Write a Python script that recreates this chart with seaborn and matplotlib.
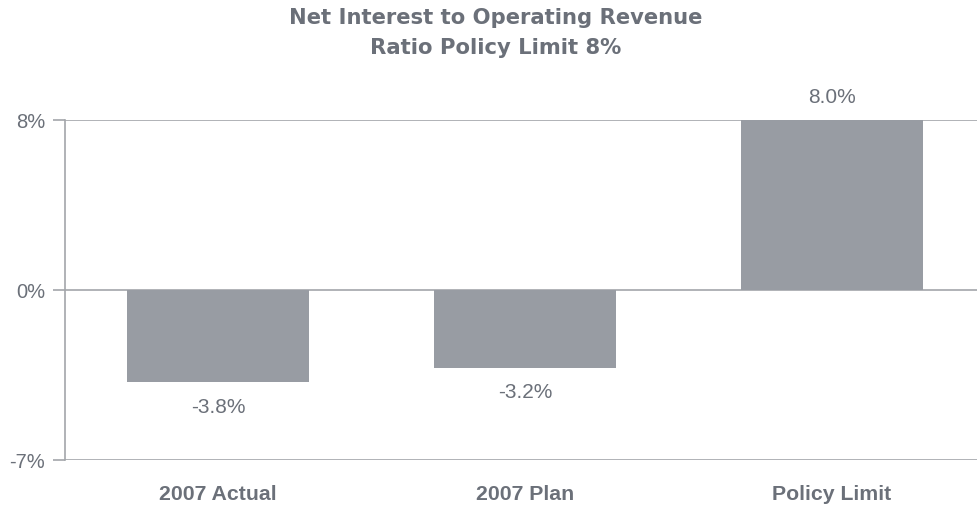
import numpy as np
import pandas as pd
import matplotlib
matplotlib.use("Agg")
import matplotlib.pyplot as plt
import seaborn as sns
from matplotlib import font_manager

categories = ["2007 Actual", "2007 Plan", "Policy Limit"]
values = [-3.8, -3.2, 8.0]
value_labels = ["-3.8%", "-3.2%", "8.0%"]
ytick_values = [-7, 0, 8]
ytick_labels = ["-7%", "0%", "8%"]
title_lines = ["Net Interest to Operating Revenue", "Ratio Policy Limit 8%"]

BAR = "#989ca3"
TEXT = "#6b7079"
LINE = "#a3a6aa"

sns.set_style("white")
plt.rcParams["font.family"] = ["Liberation Sans", "DejaVu Sans"]

names = {f.name for f in font_manager.fontManager.ttflist}
narrow = "Liberation Sans Narrow" if "Liberation Sans Narrow" in names else "Liberation Sans"

df = pd.DataFrame({"category": categories, "value": values})

fig = plt.figure(figsize=(9.77, 5.09), dpi=100)
ax = fig.add_axes([64.5 / 977, 49 / 509, 921 / 977, 340 / 509])

sns.barplot(data=df, x="category", y="value", color=BAR, width=0.593,
            saturation=1, edgecolor="none", ax=ax, zorder=3)

# Piecewise axis: negative and positive halves each take half the height
def fwd(y):
    y = np.asarray(y, dtype=float)
    return np.where(y < 0, y / 7.0, y / 8.0)

def inv(y):
    y = np.asarray(y, dtype=float)
    return np.where(y < 0, y * 7.0, y * 8.0)

ax.set_yscale("function", functions=(fwd, inv))
ax.set_ylim(-7, 8)
ax.set_xlim(-0.5, 2.5)
ax.set_yticks(ytick_values)
ax.set_yticklabels(ytick_labels)
ax.yaxis.set_minor_locator(matplotlib.ticker.NullLocator())

ax.yaxis.grid(True, color=LINE, linewidth=1.2, zorder=1)
ax.xaxis.grid(False)
for side in ["top", "right", "bottom"]:
    ax.spines[side].set_visible(False)
ax.spines["left"].set_color(LINE)
ax.spines["left"].set_linewidth(1.2)

ax.tick_params(axis="y", which="major", length=8.6, width=1.2, color=LINE,
               direction="out", pad=5.5, labelsize=14.5, labelcolor=TEXT, left=True)
ax.tick_params(axis="x", length=0, pad=18, labelcolor=TEXT)
for lab in ax.get_xticklabels():
    lab.set_fontfamily(narrow)
    lab.set_fontweight("bold")
    lab.set_fontsize(15.3)

ax.set_xlabel("")
ax.set_ylabel("")

for i, (v, txt) in enumerate(zip(values, value_labels)):
    off = -18 if v < 0 else 16.5
    ax.annotate(txt, xy=(i, v), xytext=(0, off), textcoords="offset points",
                ha="center", va="center", fontsize=15, color=TEXT)

fig.text(496 / 977, 1 - 18 / 509, title_lines[0], ha="center", va="center",
         fontsize=15.2, fontweight="bold", color=TEXT, family="DejaVu Sans")
fig.text(496 / 977, 1 - 48 / 509, title_lines[1], ha="center", va="center",
         fontsize=15.2, fontweight="bold", color=TEXT, family="DejaVu Sans")

fig.savefig("out.png", dpi=100)
